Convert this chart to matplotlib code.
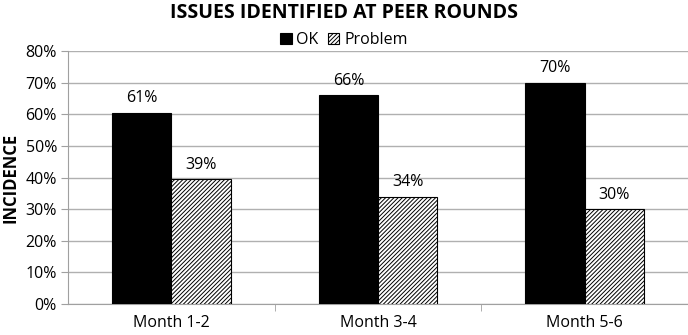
import numpy as np
import matplotlib
matplotlib.use("Agg")
import matplotlib.pyplot as plt
from matplotlib.ticker import FixedLocator

plt.rcParams['font.family'] = ['Open Sans', 'DejaVu Sans']
plt.rcParams['hatch.linewidth'] = 0.7

categories = ['Month 1-2', 'Month 3-4', 'Month 5-6']
ok_values = [60.5, 66.1, 70.0]
problem_values = [39.5, 33.9, 30.0]
ok_labels = ['61%', '66%', '70%']
problem_labels = ['39%', '34%', '30%']
yticks = [0, 10, 20, 30, 40, 50, 60, 70, 80]

fig = plt.figure(figsize=(6.88, 3.35), dpi=100)
ax = fig.add_axes([68 / 688, 1 - 304 / 335, 1 - 68 / 688, (304 - 51) / 335])

x = np.arange(len(categories))
w = 0.287
ok_bars = ax.bar(x - w / 2, ok_values, w, color='black', edgecolor='black', linewidth=0.8, label='OK', zorder=3)
pr_bars = ax.bar(x + w / 2, problem_values, w, color='white', edgecolor='black', hatch='////////', linewidth=0.8, label='Problem', zorder=3)

for b, t in zip(ok_bars, ok_labels):
    ax.text(b.get_x() + b.get_width() / 2, b.get_height() + 2.0, t, ha='center', va='bottom', fontsize=11.5)
for b, t in zip(pr_bars, problem_labels):
    ax.text(b.get_x() + b.get_width() / 2, b.get_height() + 2.0, t, ha='center', va='bottom', fontsize=11.5)

ax.set_xlim(-0.5, 2.5)
ax.set_ylim(0, 80)
ax.set_yticks(yticks)
ax.set_yticklabels([f'{v}%' for v in yticks], fontsize=11.5)
ax.set_xticks(x)
ax.set_xticklabels(categories, fontsize=11.5)
ax.tick_params(axis='x', length=0, pad=8)
ax.xaxis.set_minor_locator(FixedLocator([0.5, 1.5, 2.5]))
ax.tick_params(axis='x', which='minor', length=5, color='#a0a0a0')
ax.tick_params(axis='y', length=5, color='#a0a0a0', pad=3)
ax.grid(axis='y', color='#b0b0b0', linewidth=1, zorder=0)
for s in ['top', 'right']:
    ax.spines[s].set_visible(False)
for s in ['left', 'bottom']:
    ax.spines[s].set_color('#a0a0a0')
ax.set_ylabel('INCIDENCE', fontsize=12, fontweight='bold', labelpad=4)

fig.text(0.5, 0.99, 'ISSUES IDENTIFIED AT PEER ROUNDS', ha='center', va='top', fontsize=14, fontweight='bold')
fig.legend(loc='center', bbox_to_anchor=(0.5, 1 - 40 / 335), ncol=2, frameon=False, fontsize=11.5,
           handlelength=0.7, handleheight=0.7, handletextpad=0.3, columnspacing=0.6, borderpad=0)

fig.savefig('out.png', dpi=100)
